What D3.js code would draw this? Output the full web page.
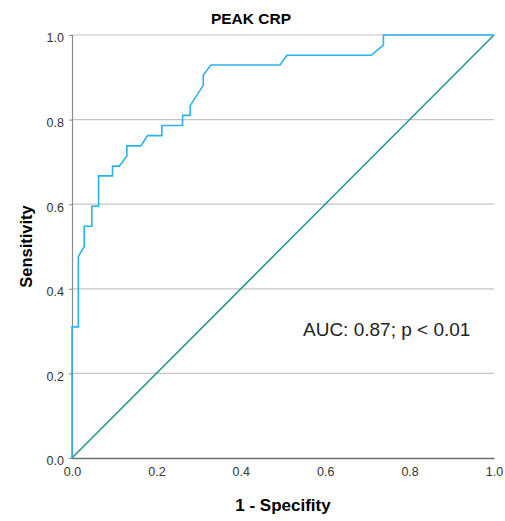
<!DOCTYPE html>
<html>
<head>
<meta charset="utf-8">
<script src="https://cdn.jsdelivr.net/npm/d3@7"></script>
<style>
  body { margin: 0; background: #fff; }
  text { font-family: "Liberation Sans", Arial, sans-serif; }
</style>
</head>
<body>
<div class="chart"></div>
<script>
// ROC curve points
let fpr = [0, 0, 0.015, 0.015, 0.029, 0.029, 0.047, 0.047, 0.063, 0.063, 0.096, 0.096, 0.112, 0.130, 0.130, 0.163, 0.179, 0.213, 0.213, 0.262, 0.262, 0.280, 0.280, 0.311, 0.311, 0.329, 0.493, 0.509, 0.709, 0.738, 0.738, 1.0]
let tpr = [0, 0.310, 0.310, 0.476, 0.500, 0.548, 0.548, 0.595, 0.595, 0.667, 0.667, 0.690, 0.690, 0.714, 0.738, 0.738, 0.762, 0.762, 0.786, 0.786, 0.810, 0.810, 0.833, 0.881, 0.905, 0.929, 0.929, 0.952, 0.952, 0.976, 1.0, 1.0]
let refLine = [0, 1]
let ticks = [0, 0.2, 0.4, 0.6, 0.8, 1.0]

let title = "PEAK CRP"
let xTitle = "1 - Specifity"
let yTitle = "Sensitivity"
let note = "AUC: 0.87; p < 0.01"

let width = 505, height = 521;
let margin = {left: 72, right: 11, top: 35, bottom: 63};

let svg = d3.select(".chart")
.append("svg")
.attr("width", width)
.attr("height", height);

let x = d3.scaleLinear()
.domain([0, 1])
.range([margin.left, width - margin.right]);

let y = d3.scaleLinear()
.domain([0, 1])
.range([height - margin.bottom, margin.top]);

// gridlines
svg.append("g")
.selectAll("line")
.data(ticks.slice(1))
.enter()
.append("line")
.attr("x1", x(0))
.attr("x2", x(1))
.attr("y1", d => y(d))
.attr("y2", d => y(d))
.style("stroke", "#c4c4c4")
.style("stroke-width", 1.2);

// y axis
let yAxis = svg.append("g")
.attr("transform", `translate(${x(0)},0)`)
.call(d3.axisLeft(y).tickValues(ticks).tickFormat(d3.format(".1f")).tickSize(3).tickPadding(5));

// x axis
let xAxis = svg.append("g")
.attr("transform", `translate(0,${y(0)})`)
.call(d3.axisBottom(x).tickValues(ticks).tickFormat(d3.format(".1f")).tickSize(0).tickPadding(9));

yAxis.select(".domain").style("stroke", "#8a8a8a").style("stroke-width", 1.2);
xAxis.select(".domain").style("stroke", "#6e6e6e").style("stroke-width", 1.6);
yAxis.selectAll(".tick line").style("stroke", "#8a8a8a");
svg.selectAll(".tick text")
.style("font-size", "12.5px")
.style("fill", "#333");
yAxis.selectAll(".tick text").attr("dy", "0.55em");

// reference diagonal
svg.append("line")
.attr("x1", x(refLine[0]))
.attr("y1", y(refLine[0]))
.attr("x2", x(refLine[1]))
.attr("y2", y(refLine[1]))
.style("stroke", "#1f958f")
.style("stroke-width", 1.5);

// roc curve
let line = d3.line()
.x(d => x(d[0]))
.y(d => y(d[1]));

svg.append("path")
.datum(fpr.map((f, i) => [f, tpr[i]]))
.attr("d", line)
.style("fill", "none")
.style("stroke", "#29b3ea")
.style("stroke-width", 1.6);

svg.append("text")
.attr("x", 251)
.attr("y", 24)
.attr("text-anchor", "middle")
.style("font-size", "15.5px")
.style("font-weight", "bold")
.text(title);

svg.append("text")
.attr("x", x(0.5))
.attr("y", 511)
.attr("text-anchor", "middle")
.style("font-size", "17px")
.style("font-weight", "bold")
.text(xTitle);

svg.append("text")
.attr("transform", `translate(32,${y(0.5)}) rotate(-90)`)
.attr("text-anchor", "middle")
.style("font-size", "16.5px")
.style("font-weight", "bold")
.text(yTitle);

svg.append("text")
.attr("x", 303)
.attr("y", 336)
.style("font-size", "19px")
.style("fill", "#222")
.text(note);
</script>
</body>
</html>
